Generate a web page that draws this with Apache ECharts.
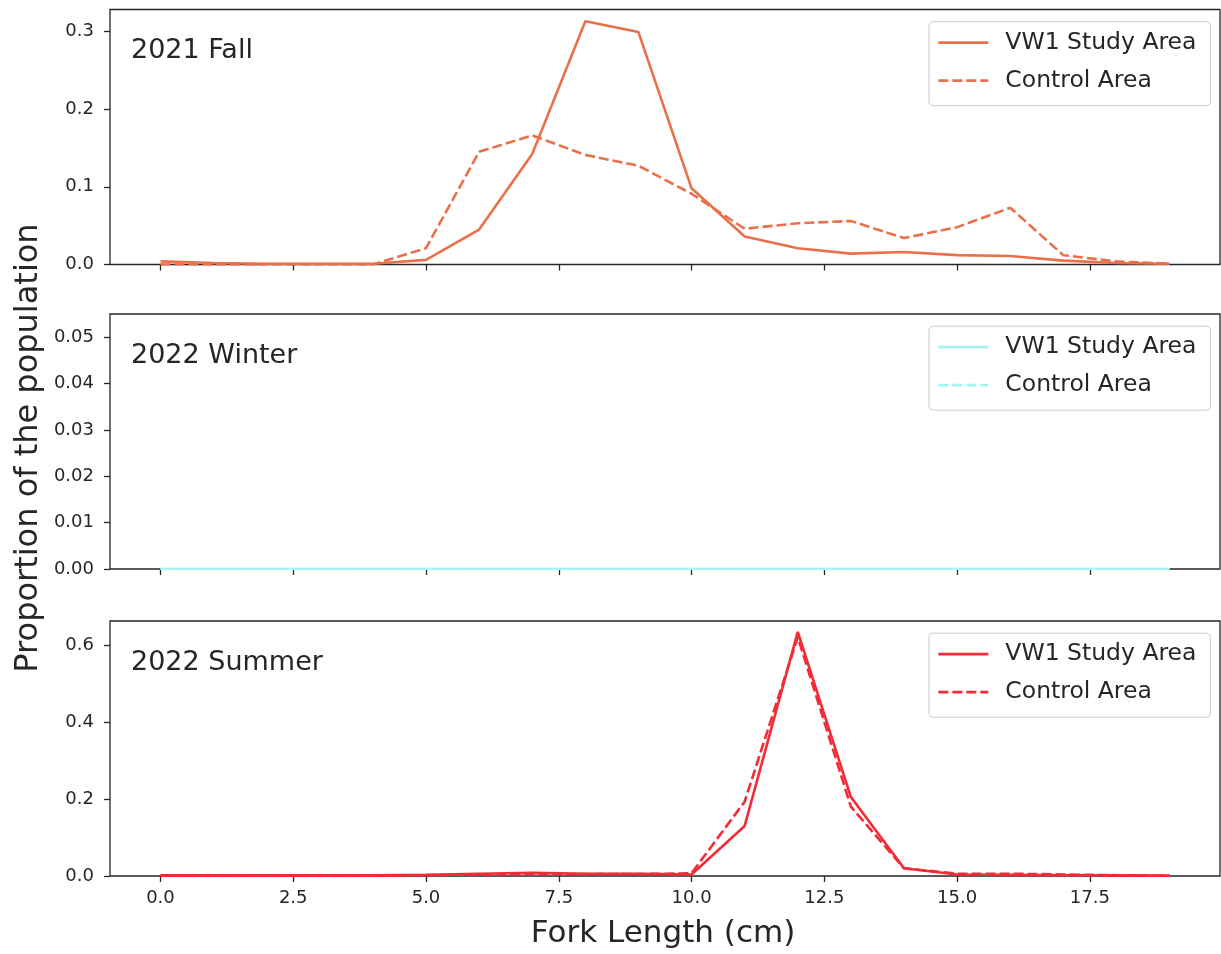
<!DOCTYPE html>
<html>
<head>
<meta charset="utf-8">
<script src="https://cdn.jsdelivr.net/npm/echarts@6/dist/echarts.min.js"></script>
<style>
html,body{margin:0;padding:0;background:#fff;}
#chart{width:1221px;height:954px;}
</style>
</head>
<body>
<div id="chart"></div>
<script>
// ---- data ----
var forkLength = [0,1,2,3,4,5,6,7,8,9,10,11,12,13,14,15,16,17,18,19];
var xTicks = [0,2.5,5,7.5,10,12.5,15,17.5];
var panelTitles = ['2021 Fall','2022 Winter','2022 Summer'];
var legendLabels = ['VW1 Study Area','Control Area'];
var fallStudy    = [0.004,0.002,0.001,0.001,0.001,0.006,0.045,0.142,0.313,0.299,0.098,0.036,0.021,0.014,0.016,0.012,0.011,0.005,0.002,0.001];
var fallControl  = [0,0,0,0,0,0.021,0.145,0.166,0.141,0.127,0.091,0.046,0.053,0.056,0.034,0.048,0.073,0.012,0.004,0.001];
var winterStudy  = [0,0,0,0,0,0,0,0,0,0,0,0,0,0,0,0,0,0,0,0];
var winterControl= [0,0,0,0,0,0,0,0,0,0,0,0,0,0,0,0,0,0,0,0];
var summerStudy  = [0.002,0.002,0.002,0.002,0.002,0.003,0.006,0.008,0.006,0.006,0.004,0.130,0.634,0.205,0.020,0.004,0.003,0.002,0.002,0.001];
var summerControl= [0,0,0,0,0,0.002,0.004,0.005,0.005,0.005,0.007,0.193,0.620,0.180,0.020,0.006,0.006,0.004,0.002,0.001];
var yTicks = [[0,0.1,0.2,0.3],[0,0.01,0.02,0.03,0.04,0.05],[0,0.2,0.4,0.6]];
var yMax = [0.328,0.055,0.662];
var yDecimals = [1,2,1];

// ---- layout / style ----
var FONT = 'DejaVu Sans';
var colors = ['#E9704A','#A6F3F3','#F22B36'];
var gridTops = [9.5,314,621];
var gridH = 255, gridL = 110, gridW = 1110;
var seriesData = [[fallStudy,fallControl],[winterStudy,winterControl],[summerStudy,summerControl]];
var keys = ['fall','winter','summer'];

function pts(arr){ return forkLength.map(function(x,i){ return [x, arr[i]]; }); }

var grids=[], xAxes=[], yAxes=[], series=[], legends=[], graphics=[];
var nameMap = {};
for (var p=0;p<3;p++){
  grids.push({left:gridL, top:gridTops[p], width:gridW, height:gridH, show:true, borderColor:'#262626', borderWidth:1.3, backgroundColor:'transparent', containLabel:false});
  xAxes.push({
    type:'value', gridIndex:p, min:-0.95, max:19.95,
    splitLine:{show:false},
    axisLine:{show:false, onZero:false},
    axisTick:{show:true, customValues:xTicks, length:6, lineStyle:{color:'#262626', width:1.3}},
    axisLabel:{show:p===2, customValues:xTicks, formatter:function(v){return v.toFixed(1);}, fontFamily:FONT, fontSize:18, color:'#262626', margin:13}
  });
  (function(pp){
    yAxes.push({
      type:'value', gridIndex:pp, min:0, max:yMax[pp],
      splitLine:{show:false},
      axisLine:{show:false, onZero:false},
      axisTick:{show:true, customValues:yTicks[pp], length:6, lineStyle:{color:'#262626', width:1.3}},
      axisLabel:{show:true, customValues:yTicks[pp], formatter:function(v){return v.toFixed(yDecimals[pp]);}, fontFamily:FONT, fontSize:18, color:'#262626', margin:16}
    });
  })(p);
  var ids = [keys[p]+'_study', keys[p]+'_control'];
  nameMap[ids[0]] = legendLabels[0];
  nameMap[ids[1]] = legendLabels[1];
  for (var s=0;s<2;s++){
    series.push({
      type:'line', name:ids[s], xAxisIndex:p, yAxisIndex:p,
      data:pts(seriesData[p][s]),
      symbol:'none', showSymbol:false, smooth:false,
      itemStyle:{color:colors[p]},
      lineStyle:{color:colors[p], width:2.6, type: s===0 ? 'solid' : [10,4]},
      emphasis:{disabled:true}, silent:true
    });
  }
  legends.push({
    data:ids, orient:'vertical', left:929, top:gridTops[p]+12.2,
    padding:[7,14,11,8], itemGap:10, itemWidth:50, itemHeight:14,
    backgroundColor:'rgba(255,255,255,0.8)', borderColor:'#cccccc', borderWidth:1, borderRadius:4,
    itemStyle:{opacity:0},
    lineStyle:{width:2.7},
    formatter:function(n){ return nameMap[n]; },
    textStyle:{fontFamily:FONT, fontSize:23.5, color:'#262626', lineHeight:28, padding:[0,0,0,12]},
    selectedMode:false
  });
  graphics.push({
    type:'text', left:131, top:gridTops[p]+28,
    style:{text:panelTitles[p], font:'27px "DejaVu Sans"', fill:'#262626'}
  });
}
graphics.push({
  type:'text', x:29, y:448, rotation:Math.PI/2,
  style:{text:'Proportion of the population', font:'32px "DejaVu Sans"', fill:'#262626', align:'center', verticalAlign:'middle'}
});
graphics.push({
  type:'text', x:663, y:934,
  style:{text:'Fork Length (cm)', font:'31px "DejaVu Sans"', fill:'#262626', align:'center', verticalAlign:'middle'}
});

var chart = echarts.init(document.getElementById('chart'), null, {renderer:'canvas'});
chart.setOption({
  backgroundColor:'#ffffff',
  animation:false,
  grid:grids, xAxis:xAxes, yAxis:yAxes, series:series, legend:legends, graphic:graphics
});
</script>
</body>
</html>
